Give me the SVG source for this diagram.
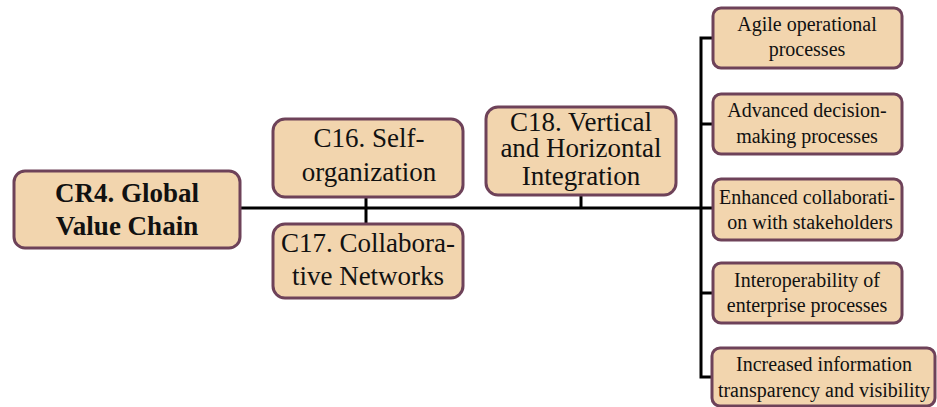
<svg xmlns="http://www.w3.org/2000/svg" width="937" height="407" viewBox="0 0 937 407">
<style>
.box{fill:#f2d5ae;stroke:#6e4259;stroke-width:3}
.t{font-family:'Liberation Serif','DejaVu Serif',serif;fill:#111;text-anchor:middle}
.m{font-size:27px}
.s{font-size:20px}
.b{font-size:27px;font-weight:bold}
.c{fill:none;stroke:#000;stroke-width:3}
</style>
<rect width="937" height="407" fill="#fff"/>
<g id="connectors">
<path class="c" d="M240 208H701"/>
<path class="c" d="M366 197V224"/>
<path class="c" d="M581 195V208"/>
<path class="c" d="M713 38H701V377H713"/>
<path class="c" d="M701 124H713"/>
<path class="c" d="M701 208H713"/>
<path class="c" d="M701 293H713"/>
</g>
<g id="cr4">
<rect class="box" x="14" y="171" width="226" height="77" rx="11"/>
<text class="t b" x="127" y="202">CR4. Global</text>
<text class="t b" x="127" y="235">Value Chain</text>
</g>
<g id="c16">
<rect class="box" x="273" y="119" width="190" height="78" rx="12"/>
<text class="t m" x="369" y="147">C16. Self-</text>
<text class="t m" x="369" y="181">organization</text>
</g>
<g id="c17">
<rect class="box" x="273" y="224" width="190" height="74" rx="12"/>
<text class="t m" x="368" y="252">C17. Collabora-</text>
<text class="t m" x="368" y="285">tive Networks</text>
</g>
<g id="c18">
<rect class="box" x="486" y="107" width="190" height="88" rx="12"/>
<text class="t m" x="581" y="131">C18. Vertical</text>
<text class="t m" x="581" y="157">and Horizontal</text>
<text class="t m" x="581" y="185">Integration</text>
</g>
<g id="n1">
<rect class="box" x="713" y="8" width="189" height="60" rx="8"/>
<text class="t s" x="807" y="31">Agile operational</text>
<text class="t s" x="807" y="56">processes</text>
</g>
<g id="n2">
<rect class="box" x="713" y="94" width="189" height="60" rx="8"/>
<text class="t s" x="807" y="117">Advanced decision-</text>
<text class="t s" x="807" y="143">making processes</text>
</g>
<g id="n3">
<rect class="box" x="713" y="179" width="189" height="61" rx="8"/>
<text class="t s" x="807" y="204">Enhanced collaborati-</text>
<text class="t s" x="810" y="229">on with stakeholders</text>
</g>
<g id="n4">
<rect class="box" x="713" y="263" width="189" height="60" rx="8"/>
<text class="t s" x="807" y="287">Interoperability of</text>
<text class="t s" x="807" y="312">enterprise processes</text>
</g>
<g id="n5">
<rect class="box" x="712" y="348" width="223" height="58" rx="8"/>
<text class="t s" x="824" y="371">Increased information</text>
<text class="t s" x="824" y="397">transparency and visibility</text>
</g>
</svg>
